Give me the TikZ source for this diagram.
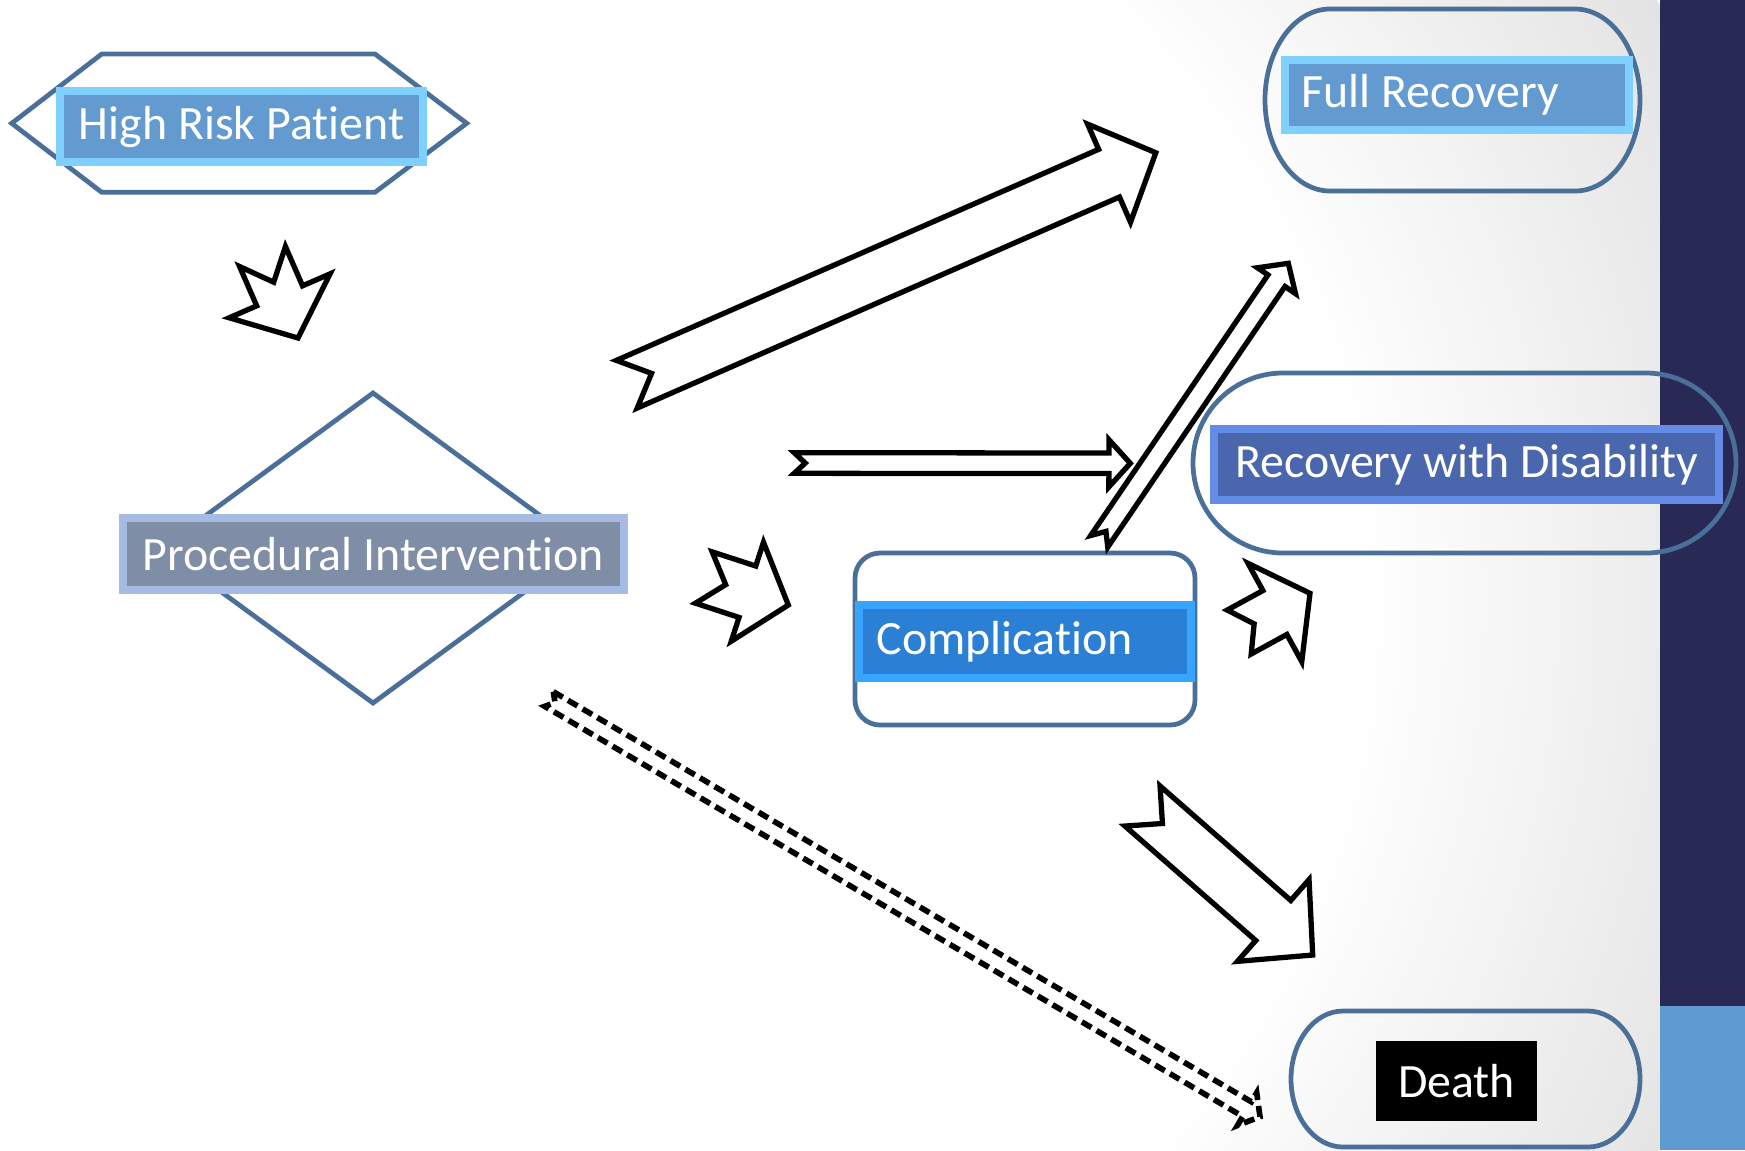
\documentclass[tikz,border=0pt]{standalone}
\usepackage{fontspec}
\setmainfont{Carlito}[Ligatures=NoCommon]
\usetikzlibrary{calc}
\definecolor{ringblue}{HTML}{4A7099}\definecolor{navy}{HTML}{282A55}\definecolor{skyband}{HTML}{5F9BD0}
\definecolor{hrpfill}{HTML}{639BD0}\definecolor{hrpedge}{HTML}{7FCFFF}
\definecolor{pifill}{HTML}{7F8DA7}\definecolor{piedge}{HTML}{A5BBE1}
\definecolor{rwdfill}{HTML}{4A66AC}\definecolor{rwdedge}{HTML}{648CE6}
\definecolor{cfill}{HTML}{2B7FD4}\definecolor{cedge}{HTML}{37A5FF}
\pgfdeclareradialshading{bgfade}{\pgfpoint{0bp}{0bp}}{color(0bp)=(white); color(16bp)=(white); color(25bp)=(black!11); color(50bp)=(black!11)}
\newcommand{\lblfont}{\fontsize{13.6}{16}\selectfont}
\tikzset{ring/.style={draw=ringblue,line width=1.35pt},
  tag/.style 2 args={fill=#1,draw=#2,line width=0.08cm,text=white,font=\lblfont,inner sep=0pt},
  blk/.style={draw=black,line width=1.5pt,fill=white,line join=miter,miter limit=10},
  dsh/.style={blk,line width=1.6pt,dash pattern=on 0.11cm off 0.06cm}}
% notched block arrow: [style]{tail}{tip}{half shaft}{half head}{head length}{notch}
\newcommand{\blockarrow}[7][blk]{\coordinate (ba-q) at ($(#3)!#6!(#2)$);
  \draw[#1] ($(#2)!#4!90:(#3)$) -- ($(ba-q)!#4!90:(#3)$) -- ($(ba-q)!#5!90:(#3)$) -- (#3)
    -- ($(ba-q)!#5!-90:(#3)$) -- ($(ba-q)!#4!-90:(#3)$) -- ($(#2)!#4!-90:(#3)$) -- ($(#2)!#7!(#3)$) -- cycle;}
% capsule outline: {x1}{y1}{x2}{y2}{rx}{ry}
\newcommand{\capsule}[6]{\draw[ring] (#1+#5,#2) -- (#3-#5,#2) arc[start angle=-90,end angle=0,x radius=#5,y radius=#6]
  -- (#3,#4-#6) arc[start angle=0,end angle=90,x radius=#5,y radius=#6] -- (#1+#5,#4)
  arc[start angle=90,end angle=180,x radius=#5,y radius=#6] -- (#1,#2+#6) arc[start angle=180,end angle=270,x radius=#5,y radius=#6] -- cycle;}
\begin{document}
\begin{tikzpicture}[x=0.01cm,y=-0.01cm]
\useasboundingbox (0,0) rectangle (1745,1150);
% backdrop
\fill[white] (0,0) rectangle (1745,1150);
\begin{scope}\clip (0,0) rectangle (1660,1150);\shade[shading=bgfade] (560,600) circle (1250);\end{scope}
\fill[navy] (1660,0) rectangle (1745,1006);\fill[skyband] (1660,1006) rectangle (1745,1150);
% outlines
\draw[ring] (11.7,123.3) -- (101.7,54) -- (375,54) -- (466.7,123.3) -- (375,192.3) -- (101.7,192.3) -- cycle;
\draw[ring] (373,393) -- (584.5,548) -- (373,703) -- (161.5,548) -- cycle;
\draw[ring,rounded corners=0.25cm] (855,553) rectangle (1195,725);
\capsule{1265}{9}{1640}{191}{65}{91}\capsule{1193}{373}{1736}{553}{90}{90}\capsule{1291}{1011}{1640}{1147}{52}{68}
% labels
\node[tag={hrpfill}{hrpedge},minimum width=3.63cm,minimum height=0.71cm] (hrp) at (241.5,126.5) {High Risk Patient};
\node[tag={pifill}{piedge},minimum width=5.01cm,minimum height=0.72cm] (pi) at (373.2,554.3) {Procedural Intervention};
\node[tag={hrpfill}{hrpedge},inner xsep=0.17cm,text width=3.10cm,align=flush left,minimum height=0.70cm] (fr) at (1457,95) {Full Recovery};
\node[tag={rwdfill}{rwdedge},minimum width=5.05cm,minimum height=0.71cm] (rwd) at (1466.7,464.4) {Recovery with Disability};
\node[tag={cfill}{cedge},inner xsep=0.18cm,text width=2.96cm,align=flush left,minimum height=0.73cm] (cmp) at (1025,641.3) {Complication};
\node[fill=black,text=white,font=\lblfont,minimum width=1.61cm,minimum height=0.80cm] (dth) at (1456.5,1081) {Death};
% arrows
\coordinate (a0) at (262.5,256.5);\coordinate (a1) at (298,338);
\coordinate (b0) at (626.8,384.2);\coordinate (b1) at (1155.8,152.7);
\coordinate (c0) at (794.2,463);\coordinate (c1) at (1130.3,463.3);
\coordinate (d0) at (1099.2,541.3);\coordinate (d1) at (1288.3,263.3);
\coordinate (e0) at (703.8,577.5);\coordinate (e1) at (788.3,605);
\coordinate (f0) at (1239.2,632);\coordinate (f1) at (1310,593.3);
\coordinate (g0) at (1142.5,806);\coordinate (g1) at (1312.7,955);
\coordinate (h0) at (549,699);\coordinate (h1) at (1260,1116.7);
\blockarrow{a0}{a1}{0.25cm}{0.55cm}{0.46cm}{0.28cm}
\blockarrow{b0}{b1}{0.26cm}{0.535cm}{0.51cm}{0.27cm}
\blockarrow{c0}{c1}{0.103cm}{0.236cm}{0.214cm}{0.11cm}
\blockarrow{d0}{d1}{0.103cm}{0.23cm}{0.21cm}{0.12cm}
\blockarrow{e0}{e1}{0.27cm}{0.52cm}{0.43cm}{0.23cm}
\blockarrow{f0}{f1}{0.25cm}{0.56cm}{0.40cm}{0.17cm}
\blockarrow{g0}{g1}{0.266cm}{0.543cm}{0.524cm}{0.265cm}
\blockarrow[dsh]{h0}{h1}{0.085cm}{0.19cm}{0.15cm}{0.07cm}
\end{tikzpicture}
\end{document}
